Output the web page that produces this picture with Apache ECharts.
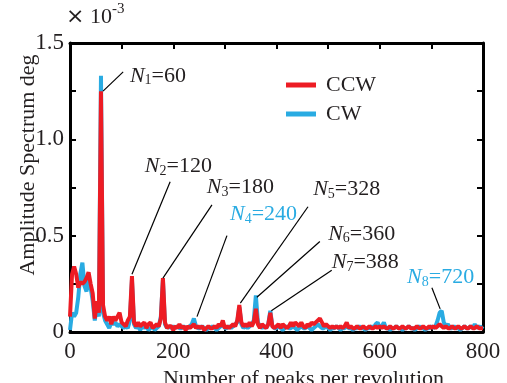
<!DOCTYPE html>
<html>
<head>
<meta charset="utf-8">
<script src="https://cdn.jsdelivr.net/npm/echarts@6.0.0/dist/echarts.min.js"></script>
<style>
  html, body { margin: 0; padding: 0; background: #fff; }
  #chart { width: 507px; height: 383px; }
</style>
</head>
<body>
<div id="chart"></div>
<script>
// peaks per revolution, one sample every 4
var peaksPerRev = [];
for (var i = 0; i <= 200; i++) peaksPerRev.push(i * 4);

// amplitude, x 10^-3 deg
var ccw = [
  0.08, 0.30, 0.34, 0.30, 0.23, 0.26, 0.25, 0.26, 0.28, 0.31, // 0-36
  0.25, 0.20, 0.07, 0.16, 0.10, 1.25, 0.14, 0.08, 0.06, 0.08, // 40-76
  0.04, 0.08, 0.06, 0.08, 0.10, 0.05, 0.04, 0.03, 0.06, 0.08, // 80-116
  0.29, 0.05, 0.03, 0.05, 0.03, 0.04, 0.05, 0.02, 0.04, 0.05, // 120-156
  0.02, 0.03, 0.04, 0.03, 0.07, 0.28, 0.05, 0.02, 0.03, 0.03, // 160-196
  0.01, 0.03, 0.02, 0.04, 0.02, 0.03, 0.01, 0.03, 0.02, 0.03, // 200-236
  0.04, 0.02, 0.03, 0.02, 0.03, 0.01, 0.02, 0.03, 0.02, 0.02, // 240-276
  0.03, 0.02, 0.04, 0.03, 0.06, 0.02, 0.03, 0.02, 0.03, 0.04, // 280-316
  0.03, 0.06, 0.14, 0.05, 0.03, 0.04, 0.03, 0.05, 0.03, 0.05, // 320-356
  0.12, 0.04, 0.02, 0.04, 0.03, 0.02, 0.04, 0.10, 0.03, 0.02, // 360-396
  0.03, 0.04, 0.02, 0.04, 0.03, 0.02, 0.03, 0.05, 0.03, 0.05, // 400-436
  0.04, 0.03, 0.05, 0.03, 0.02, 0.04, 0.03, 0.05, 0.04, 0.05, // 440-476
  0.06, 0.07, 0.05, 0.03, 0.04, 0.03, 0.02, 0.03, 0.02, 0.03, // 480-516
  0.02, 0.03, 0.02, 0.03, 0.05, 0.02, 0.03, 0.02, 0.02, 0.03, // 520-556
  0.02, 0.02, 0.03, 0.02, 0.02, 0.03, 0.02, 0.02, 0.03, 0.02, // 560-596
  0.03, 0.02, 0.03, 0.02, 0.02, 0.03, 0.02, 0.02, 0.03, 0.02, // 600-636
  0.02, 0.03, 0.02, 0.02, 0.03, 0.02, 0.02, 0.02, 0.03, 0.02, // 640-676
  0.02, 0.03, 0.02, 0.02, 0.03, 0.02, 0.03, 0.02, 0.03, 0.04, // 680-716
  0.03, 0.02, 0.03, 0.02, 0.02, 0.03, 0.02, 0.02, 0.03, 0.02, // 720-756
  0.02, 0.03, 0.02, 0.02, 0.03, 0.02, 0.02, 0.03, 0.02, 0.02, // 760-796
  0.02                                                        // 800
];
var cw = [
  0.01, 0.10, 0.08, 0.10, 0.18, 0.30, 0.36, 0.24, 0.21, 0.28, // 0-36
  0.23, 0.16, 0.06, 0.14, 0.08, 1.33, 0.10, 0.06, 0.04, 0.02, // 40-76
  0.05, 0.04, 0.05, 0.03, 0.04, 0.03, 0.02, 0.03, 0.02, 0.06, // 80-116
  0.27, 0.04, 0.02, 0.03, 0.01, 0.03, 0.02, 0.03, 0.01, 0.02, // 120-156
  0.03, 0.01, 0.02, 0.03, 0.08, 0.27, 0.04, 0.02, 0.03, 0.02, // 160-196
  0.03, 0.02, 0.03, 0.02, 0.02, 0.03, 0.02, 0.02, 0.03, 0.04, // 200-236
  0.07, 0.03, 0.02, 0.02, 0.03, 0.02, 0.01, 0.02, 0.02, 0.03, // 240-276
  0.02, 0.01, 0.02, 0.03, 0.04, 0.02, 0.02, 0.03, 0.02, 0.03, // 280-316
  0.04, 0.05, 0.13, 0.04, 0.02, 0.03, 0.02, 0.03, 0.04, 0.06, // 320-356
  0.19, 0.05, 0.03, 0.02, 0.03, 0.02, 0.04, 0.11, 0.03, 0.02, // 360-396
  0.02, 0.03, 0.02, 0.01, 0.02, 0.03, 0.02, 0.02, 0.03, 0.02, // 400-436
  0.01, 0.02, 0.03, 0.02, 0.02, 0.03, 0.02, 0.01, 0.02, 0.03, // 440-476
  0.04, 0.03, 0.02, 0.02, 0.03, 0.02, 0.01, 0.02, 0.02, 0.03, // 480-516
  0.02, 0.01, 0.02, 0.02, 0.03, 0.02, 0.02, 0.01, 0.02, 0.02, // 520-556
  0.03, 0.02, 0.02, 0.01, 0.02, 0.02, 0.03, 0.02, 0.04, 0.05, // 560-596
  0.02, 0.03, 0.05, 0.02, 0.02, 0.01, 0.02, 0.02, 0.03, 0.02, // 600-636
  0.02, 0.01, 0.02, 0.02, 0.03, 0.02, 0.02, 0.01, 0.02, 0.03, // 640-676
  0.02, 0.02, 0.01, 0.02, 0.02, 0.03, 0.02, 0.03, 0.06, 0.10, // 680-716
  0.11, 0.05, 0.03, 0.04, 0.02, 0.02, 0.03, 0.02, 0.02, 0.01, // 720-756
  0.02, 0.03, 0.02, 0.02, 0.03, 0.02, 0.04, 0.02, 0.03, 0.02, // 760-796
  0.03                                                        // 800
];

// annotated orders
var peakIndex = ['1', '2', '3', '4', '5', '6', '7', '8'];
var peakOrder = [60, 120, 180, 240, 328, 360, 388, 720];

var RED = '#ed1c24';
var BLUE = '#29abe2';
var INK = '#231f20';
var FONT = 'Liberation Serif';

// leader line start/end and text anchor, in data units
var annoLayout = [
  { from: [64, 1.25], to: [103, 1.35], text: [116, 1.33], color: INK },
  { from: [120, 0.30], to: [194, 0.78], text: [145, 0.86], color: INK },
  { from: [180, 0.28], to: [275, 0.66], text: [265, 0.75], color: INK },
  { from: [246, 0.08], to: [304, 0.50], text: [310, 0.61], color: BLUE },
  { from: [330, 0.15], to: [461, 0.65], text: [471, 0.74], color: INK },
  { from: [362, 0.18], to: [484, 0.47], text: [500, 0.51], color: INK },
  { from: [390, 0.11], to: [507, 0.32], text: [507, 0.36], color: INK },
  { from: [717, 0.12], to: [701, 0.23], text: [653, 0.285], color: BLUE }
];

function pairs(ys) {
  return ys.map(function (y, k) { return [peaksPerRev[k], y]; });
}

var leaderLines = annoLayout.map(function (a) {
  return [{ coord: a.from }, { coord: a.to }];
});
var peakTexts = annoLayout.map(function (a, k) {
  return {
    coord: a.text,
    label: {
      formatter: '{n|N}{s|' + peakIndex[k] + '}{v|=' + peakOrder[k] + '}',
      rich: {
        n: { fontFamily: FONT, fontSize: 22, fontStyle: 'italic', color: a.color, lineHeight: 24, verticalAlign: 'middle' },
        s: { fontFamily: FONT, fontSize: 14, color: a.color, lineHeight: 12, verticalAlign: 'bottom' },
        v: { fontFamily: FONT, fontSize: 22, color: a.color, lineHeight: 24, verticalAlign: 'middle' }
      }
    }
  };
});

var axisCommon = {
  min: 0,
  axisLine: { show: true, onZero: false, lineStyle: { color: '#000', width: 3 } },
  axisTick: { show: true, inside: true, length: 6, lineStyle: { color: '#000', width: 2 } },
  splitLine: { show: false }
};

function xAxisCfg(pos, labels) {
  return Object.assign({}, axisCommon, {
    type: 'value', position: pos, max: 800, interval: 100,
    axisLabel: {
      show: labels, margin: 8, color: INK, fontFamily: FONT, fontSize: 23,
      formatter: function (v) { return v % 200 === 0 ? String(v) : ''; }
    }
  });
}
function yAxisCfg(pos, labels) {
  return Object.assign({}, axisCommon, {
    type: 'value', position: pos, max: 1.5, interval: 0.25,
    axisLabel: {
      show: labels, margin: 6, color: INK, fontFamily: FONT, fontSize: 23,
      formatter: function (v) {
        if (v === 0) return '0';
        return Math.abs(v * 2 - Math.round(v * 2)) < 1e-6 ? v.toFixed(1) : '';
      }
    }
  });
}

var bottomX = xAxisCfg('bottom', true);
bottomX.name = 'Number of peaks per revolution';
bottomX.nameLocation = 'middle';
bottomX.nameGap = 36;
bottomX.nameTextStyle = { color: INK, fontFamily: FONT, fontSize: 22, padding: [0, 0, 0, 54] };

var chart = echarts.init(document.getElementById('chart'));
chart.setOption({
  animation: false,
  backgroundColor: '#fff',
  grid: { left: 70, right: 24, top: 43, bottom: 51, outerBoundsMode: 'none', containLabel: false },
  xAxis: [bottomX, xAxisCfg('top', false)],
  yAxis: [yAxisCfg('left', true), yAxisCfg('right', false)],
  legend: {
    data: ['CCW', 'CW'],
    orient: 'vertical',
    left: 281, top: 69,
    icon: 'rect', itemWidth: 30, itemHeight: 5, itemGap: 7,
    textStyle: { color: INK, fontFamily: FONT, fontSize: 22, padding: [0, 0, 0, 5] }
  },
  graphic: [
    {
      type: 'text', left: 66, top: 2,
      style: {
        text: '{x|×}{a| 10}{b|-3}',
        rich: {
          x: { fontFamily: 'DejaVu Sans', fontSize: 22, fill: INK, lineHeight: 26, verticalAlign: 'bottom' },
          a: { fontFamily: FONT, fontSize: 22, fill: INK, lineHeight: 26, verticalAlign: 'bottom' },
          b: { fontFamily: FONT, fontSize: 15, fill: INK, lineHeight: 16, verticalAlign: 'top' }
        }
      }
    },
    {
      type: 'text', x: 28, y: 165, rotation: Math.PI / 2,
      style: {
        text: 'Amplitude Spectrum deg', fill: INK,
        font: '22px "Liberation Serif"', align: 'center', verticalAlign: 'middle'
      }
    }
  ],
  series: [
    {
      name: 'CW', type: 'line', data: pairs(cw),
      showSymbol: false, color: BLUE, z: 2,
      lineStyle: { color: BLUE, width: 4 }
    },
    {
      name: 'CCW', type: 'line', data: pairs(ccw),
      showSymbol: false, color: RED, z: 3,
      lineStyle: { color: RED, width: 4 },
      markLine: {
        silent: true, symbol: 'none', animation: false,
        label: { show: false },
        lineStyle: { color: '#000', width: 1.2, type: 'solid' },
        data: leaderLines
      },
      markPoint: {
        silent: true, symbol: 'circle', symbolSize: 0, animation: false,
        label: { show: true, position: 'right', distance: 0 },
        data: peakTexts
      }
    }
  ]
});
</script>
</body>
</html>
